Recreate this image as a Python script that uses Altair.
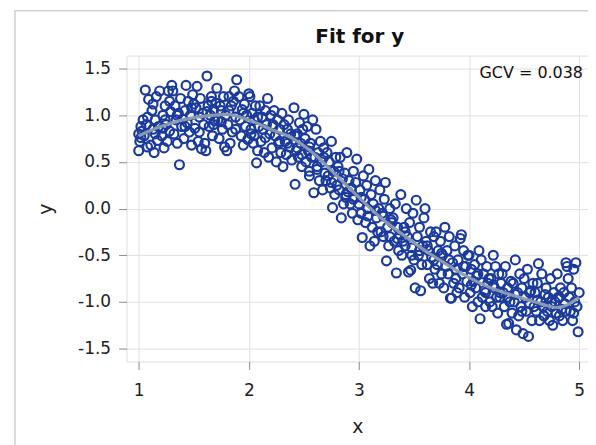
import altair as alt
import pandas as pd

# scatter values, grouped by x in steps of 0.1
x_vals = [
    1.00, 1.02, 1.01, 1.03, 1.05, 1.06, 1.04, 1.08, 1.09, 1.00, 1.07,
    1.11, 1.12, 1.13, 1.14, 1.15, 1.16, 1.17, 1.18, 1.19, 1.13,
    1.21, 1.22, 1.23, 1.24, 1.25, 1.26, 1.27, 1.28, 1.29, 1.24,
    1.31, 1.37, 1.32, 1.33, 1.34, 1.35, 1.36, 1.38, 1.39, 1.30,
    1.43, 1.41, 1.42, 1.44, 1.45, 1.46, 1.47, 1.48, 1.49, 1.40,
    1.53, 1.51, 1.52, 1.54, 1.55, 1.56, 1.57, 1.58, 1.59, 1.50,
    1.62, 1.61, 1.63, 1.64, 1.65, 1.66, 1.67, 1.68, 1.69, 1.60, 1.66,
    1.71, 1.72, 1.73, 1.74, 1.75, 1.76, 1.77, 1.78, 1.79, 1.70,
    1.89, 1.87, 1.81, 1.82, 1.83, 1.84, 1.85, 1.86, 1.88, 1.80,
    1.91, 1.92, 1.93, 1.94, 1.95, 1.96, 1.97, 1.98, 1.99, 2.00,
    2.07, 2.01, 2.02, 2.03, 2.04, 2.05, 2.06, 2.08, 2.09, 2.05,
    2.17, 2.11, 2.12, 2.13, 2.14, 2.15, 2.16, 2.18, 2.19, 2.10,
    2.23, 2.21, 2.22, 2.24, 2.25, 2.26, 2.27, 2.28, 2.29, 2.20,
    2.31, 2.32, 2.33, 2.34, 2.35, 2.36, 2.37, 2.38, 2.39, 2.30,
    2.41, 2.42, 2.43, 2.44, 2.45, 2.46, 2.47, 2.48, 2.49, 2.44, 2.50,
    2.59, 2.51, 2.52, 2.53, 2.54, 2.55, 2.56, 2.57, 2.58, 2.55,
    2.61, 2.62, 2.63, 2.64, 2.65, 2.66, 2.67, 2.68, 2.69, 2.60,
    2.76, 2.71, 2.72, 2.73, 2.74, 2.75, 2.77, 2.78, 2.79, 2.70,
    2.84, 2.81, 2.82, 2.83, 2.85, 2.86, 2.87, 2.88, 2.89, 2.80,
    2.98, 2.91, 2.92, 2.93, 2.94, 2.95, 2.96, 2.97, 2.99, 2.90,
    3.03, 3.01, 3.02, 3.04, 3.05, 3.06, 3.07, 3.08, 3.09, 3.00,
    3.11, 3.12, 3.13, 3.14, 3.15, 3.16, 3.17, 3.18, 3.19, 3.10,
    3.24, 3.25, 3.21, 3.22, 3.23, 3.26, 3.27, 3.28, 3.29, 3.20,
    3.34, 3.31, 3.32, 3.33, 3.35, 3.36, 3.37, 3.38, 3.39, 3.30,
    3.45, 3.47, 3.41, 3.42, 3.43, 3.44, 3.46, 3.48, 3.49, 3.40,
    3.51, 3.52, 3.56, 3.53, 3.54, 3.55, 3.57, 3.58, 3.59, 3.50,
    3.60, 3.61, 3.62, 3.63, 3.64, 3.65, 3.66, 3.67, 3.68, 3.69,
    3.70, 3.71, 3.72, 3.73, 3.74, 3.75, 3.76, 3.77, 3.78, 3.79,
    3.83, 3.84, 3.80, 3.81, 3.82, 3.85, 3.86, 3.87, 3.88, 3.89,
    3.92, 3.93, 3.90, 3.91, 3.94, 3.95, 3.96, 3.97, 3.98, 3.99,
    4.00, 4.01, 4.02, 4.03, 4.04, 4.05, 4.06, 4.07, 4.08, 4.09,
    4.10, 4.11, 4.12, 4.13, 4.14, 4.15, 4.16, 4.17, 4.18, 4.19,
    4.22, 4.20, 4.21, 4.23, 4.24, 4.25, 4.26, 4.27, 4.28, 4.29,
    4.34, 4.36, 4.30, 4.31, 4.32, 4.33, 4.35, 4.37, 4.38, 4.39,
    4.42, 4.43, 4.49, 4.40, 4.41, 4.44, 4.45, 4.46, 4.47, 4.48,
    4.54, 4.50, 4.51, 4.52, 4.53, 4.55, 4.56, 4.57, 4.58, 4.59,
    4.63, 4.60, 4.61, 4.62, 4.64, 4.65, 4.66, 4.67, 4.68, 4.69,
    4.70, 4.71, 4.72, 4.73, 4.74, 4.75, 4.76, 4.77, 4.78, 4.79,
    4.88, 4.80, 4.81, 4.82, 4.83, 4.84, 4.85, 4.86, 4.87, 4.89,
    4.97, 4.99, 4.90, 4.91, 4.92, 4.93, 4.94, 4.95, 4.96, 4.98, 5.00,
    1.02, 1.08, 1.15, 1.22, 1.28, 1.35, 1.42, 1.48, 1.55, 1.62, 1.68,
    1.75, 1.82, 1.88, 1.95, 2.02, 2.08, 2.15, 2.22, 2.28, 2.35, 2.42,
    2.48, 2.55, 2.62, 2.68, 2.75, 2.82, 2.88, 2.95, 3.02, 3.08, 3.15,
    3.22, 3.28, 3.35, 3.42, 3.48, 3.55, 3.62, 3.68, 3.75, 3.82, 3.88,
    3.95, 4.02, 4.08, 4.15, 4.22, 4.28, 4.35, 4.42, 4.48, 4.55, 4.62,
    4.68, 4.75, 4.82, 4.88, 4.95,
]
y_vals = [
    0.62, 0.88, 0.72, 0.83, 0.78, 1.27, 0.95, 0.66, 1.17, 0.80, 0.90,
    0.68, 1.05, 0.85, 0.60, 0.95, 1.20, 0.73, 0.88, 1.26, 1.12,
    0.78, 1.00, 0.65, 1.10, 0.90, 0.72, 1.26, 0.83, 1.04, 0.95,
    1.26, 0.47, 0.80, 1.10, 0.95, 0.70, 1.02, 1.18, 0.88, 1.32,
    1.32, 0.75, 1.05, 0.92, 1.15, 0.82, 1.00, 0.68, 1.22, 0.96,
    1.31, 0.86, 1.08, 0.72, 0.98, 1.18, 0.64, 1.02, 0.90, 1.12,
    1.42, 0.62, 1.10, 0.88, 1.00, 1.20, 0.78, 1.06, 0.94, 0.70, 1.15,
    1.29, 0.95, 0.75, 1.10, 1.05, 0.85, 1.20, 0.66, 1.00, 1.13,
    1.38, 1.26, 0.90, 1.05, 0.70, 1.10, 0.82, 1.15, 0.98, 0.62,
    1.20, 0.95, 0.78, 1.06, 0.68, 1.12, 0.88, 1.00, 0.74, 1.23,
    0.49, 1.20, 0.85, 1.02, 0.70, 0.95, 1.10, 0.62, 0.88, 0.78,
    1.18, 0.72, 0.98, 0.85, 0.60, 1.05, 0.90, 0.55, 0.80, 1.10,
    1.05, 0.65, 0.90, 0.78, 0.50, 0.95, 0.70, 0.85, 0.60, 1.00,
    0.45, 0.90, 0.72, 0.58, 0.85, 0.95, 0.66, 0.80, 0.52, 1.02,
    1.08, 0.26, 0.62, 0.80, 0.55, 0.92, 0.70, 0.45, 0.85, 0.65, 1.01,
    0.17, 0.75, 0.50, 0.88, 0.62, 0.40, 0.70, 0.55, 0.95, 0.35,
    0.85, 0.42, 0.60, 0.30, 0.72, 0.50, 0.20, 0.65, 0.38, 0.55,
    0.01, 0.60, 0.35, 0.50, 0.22, 0.72, 0.40, 0.15, 0.55, 0.30,
    -0.10, 0.45, 0.20, 0.55, 0.32, 0.05, 0.38, 0.12, 0.60, 0.25,
    0.53, 0.30, 0.05, 0.22, -0.05, 0.40, 0.12, 0.28, -0.12, 0.18,
    -0.31, 0.20, -0.05, 0.35, 0.10, -0.15, 0.25, 0.00, 0.42, 0.05,
    0.15, -0.20, 0.05, -0.35, 0.30, -0.10, -0.25, 0.00, 0.20, -0.40,
    0.28, -0.56, -0.05, -0.30, 0.10, -0.20, -0.40, 0.00, -0.12, -0.25,
    -0.69, -0.10, -0.35, 0.05, -0.20, -0.45, -0.28, 0.15, -0.50, -0.15,
    -0.68, -0.66, -0.20, -0.40, 0.00, -0.30, -0.15, -0.50, -0.05, -0.35,
    -0.85, 0.09, -0.88, -0.30, -0.50, -0.20, -0.60, -0.40, -0.10, -0.55,
    0.00, -0.35, -0.60, -0.45, -0.75, -0.25, -0.52, -0.80, -0.30, -0.65,
    -0.25, -0.60, -0.45, -0.80, -0.35, -0.70, -0.50, -0.85, -0.20, -0.62,
    -0.96, -0.96, -0.45, -0.70, -0.30, -0.58, -0.80, -0.40, -0.65, -0.90,
    -0.32, -0.28, -0.55, -0.85, -0.70, -0.45, -0.95, -0.62, -0.78, -0.50,
    -0.50, -0.90, -0.65, -1.05, -0.78, -0.60, -0.85, -0.72, -1.00, -0.45,
    -1.18, -0.55, -0.95, -0.70, -0.88, -1.05, -0.62, -0.80, -0.75, -1.00,
    -0.50, -0.75, -1.05, -0.85, -0.62, -0.95, -1.12, -0.70, -0.90, -0.80,
    -1.24, -1.23, -0.70, -0.90, -1.05, -0.62, -0.85, -1.00, -0.78, -1.12,
    -0.55, -1.30, -1.34, -0.80, -1.00, -0.90, -1.15, -0.70, -1.05, -0.85,
    -1.37, -0.75, -0.95, -1.10, -0.65, -1.02, -0.88, -1.20, -0.80, -1.05,
    -0.59, -0.90, -1.10, -0.80, -1.20, -1.00, -0.70, -1.05, -1.15, -0.92,
    -0.85, -1.10, -0.95, -1.20, -0.75, -1.05, -1.25, -0.90, -1.00, -1.12,
    -0.58, -0.70, -0.95, -1.15, -0.85, -1.08, -1.20, -0.90, -1.02, -0.62,
    -0.58, -1.32, -0.75, -0.95, -1.10, -0.85, -1.20, -0.65, -1.00, -1.05, -0.90,
    # second pass
    0.76, 0.98, 0.80, 0.86, 1.15, 1.00, 0.88, 1.08, 0.82, 1.04, 0.90,
    0.93, 1.20, 0.85, 1.02, 0.80, 0.98, 0.76, 0.88, 0.72, 0.70, 0.78,
    0.58, 0.66, 0.45, 0.55, 0.28, 0.40, 0.15, 0.10, 0.12, -0.08, -0.02,
    -0.08, -0.30, -0.32, -0.25, -0.42, -0.45, -0.40, -0.55, -0.48, -0.55,
    -0.75, -0.62, -0.82, -0.70, -0.90, -0.82, -0.95, -0.95, -0.92, -1.10,
    -0.90, -0.98, -1.15, -1.00, -0.95, -1.10, -1.12,
]

# fitted curve
fit_x = [1.0, 1.2, 1.4, 1.6, 1.8, 2.0, 2.2, 2.4, 2.6, 2.8, 3.0,
         3.2, 3.4, 3.6, 3.8, 4.0, 4.2, 4.4, 4.6, 4.8, 5.0]
fit_y = [0.78, 0.88, 0.95, 0.99, 1.01, 0.95, 0.85, 0.75, 0.58, 0.35, 0.12,
         -0.10, -0.28, -0.45, -0.60, -0.74, -0.85, -0.93, -1.00, -1.06, -0.95]

x_ticks = [1, 2, 3, 4, 5]
y_ticks = [-1.5, -1.0, -0.5, 0.0, 0.5, 1.0, 1.5]
gcv_label = "GCV = 0.038"
chart_title = "Fit for y"

n = min(len(x_vals), len(y_vals))
pts = pd.DataFrame({"x": x_vals[:n], "y": y_vals[:n]})
fit = pd.DataFrame({"x": fit_x, "y": fit_y})

FONT = "DejaVu Sans"
xs = alt.Scale(domain=[0.89, 5.08], nice=False, zero=False)
ys = alt.Scale(domain=[-1.639, 1.639], nice=False, zero=False)

axis_common = dict(
    grid=True, gridColor="#e0e0e0", gridWidth=1,
    domain=False, ticks=True, tickColor="#8a8a8a", tickSize=8, tickWidth=1,
    labelFont=FONT, labelFontSize=17, labelColor="#222222",
    titleFont=FONT, titleFontSize=19, titleFontWeight="normal", titleColor="#222222",
)

xaxis = alt.Axis(values=x_ticks, format="d", title="x", labelPadding=13,
                 titlePadding=19, **axis_common)
yaxis = alt.Axis(values=y_ticks, title="y", labelPadding=8, titlePadding=22,
                 labelExpr="datum.value < 0 ? '-' + format(-datum.value, '.1f') : format(datum.value, '.1f')",
                 **axis_common)

points = alt.Chart(pts).mark_point(
    shape="circle", filled=False, size=80, strokeWidth=2.2, color="#1a3a9c", opacity=1
).encode(
    x=alt.X("x:Q", scale=xs, axis=xaxis),
    y=alt.Y("y:Q", scale=ys, axis=yaxis),
)

line = alt.Chart(fit).mark_line(
    color="#8c9ab2", strokeWidth=3.2, interpolate="monotone", opacity=0.95
).encode(
    x=alt.X("x:Q", scale=xs),
    y=alt.Y("y:Q", scale=ys),
)

gcv = alt.Chart(pd.DataFrame({"t": [gcv_label]})).mark_text(
    align="right", baseline="middle", font=FONT, fontSize=16, color="#111111"
).encode(
    text="t:N", x=alt.value(458), y=alt.value(17)
)

title_mark = alt.Chart(pd.DataFrame({"t": [chart_title]})).mark_text(
    align="center", baseline="alphabetic", font=FONT, fontSize=20,
    fontWeight="bold", color="#111111", clip=False
).encode(
    text="t:N", x=alt.value(234), y=alt.value(-13)
)

border = alt.Chart(pd.DataFrame({"a": [0]})).mark_rect(
    filled=False, fill=None, stroke="#cfcfcf", strokeWidth=1.5, clip=False
).encode(
    x=alt.value(-112), x2=alt.value(620), y=alt.value(-45), y2=alt.value(480)
)

chart = alt.layer(border, points, line, gcv, title_mark).properties(
    width=463, height=307,
    autosize=alt.AutoSizeParams(type="none"),
    padding={"left": 119, "top": 47, "right": 0, "bottom": 95},
).configure_view(stroke="#a0a0a0", strokeWidth=1.2).configure(background="white")

chart.save("out.html", embed_options={"renderer": "svg", "actions": False})
